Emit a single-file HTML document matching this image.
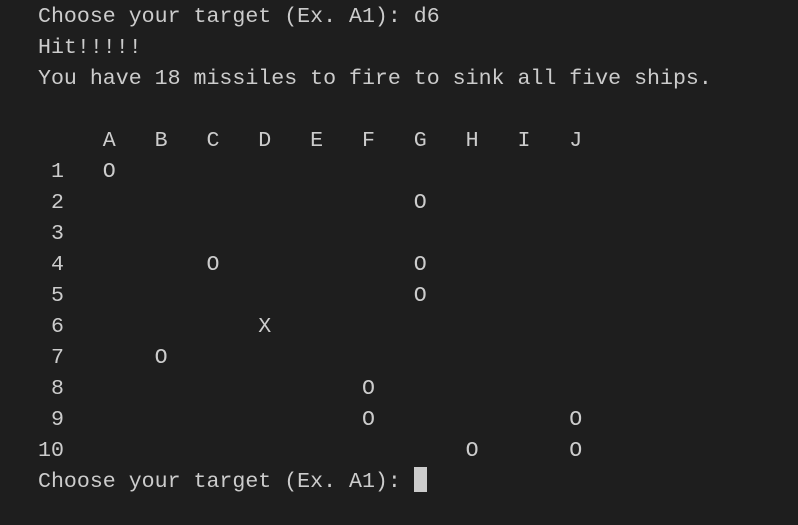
<!DOCTYPE html>
<html><head><meta charset="utf-8"><style>
html,body{margin:0;padding:0;background:#1e1e1e;width:798px;height:525px;overflow:hidden}
pre{margin:0;position:absolute;left:38px;top:2px;font-family:"Liberation Mono","DejaVu Sans Mono",monospace;font-size:21.6px;line-height:31px;color:#cccccc}
.cur{display:inline-block;width:13px;height:25px;background:#cccccc;vertical-align:-5px}
</style></head><body><pre>Choose your target (Ex. A1): d6
Hit!!!!!
You have 18 missiles to fire to sink all five ships.

     A   B   C   D   E   F   G   H   I   J
 1   O
 2                           O
 3
 4           O               O
 5                           O
 6               X
 7       O
 8                       O
 9                       O               O
10                               O       O
Choose your target (Ex. A1): <span class="cur"></span></pre></body></html>
